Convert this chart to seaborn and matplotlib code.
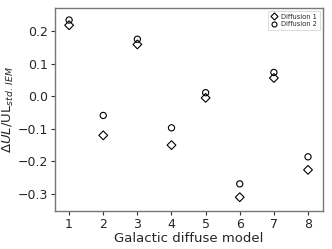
import matplotlib
matplotlib.use("Agg")
import matplotlib.pyplot as plt
import seaborn as sns
import pandas as pd

models = [1, 2, 3, 4, 5, 6, 7, 8]
diffusion1 = [0.218, -0.12, 0.159, -0.15, -0.005, -0.31, 0.056, -0.226]
diffusion2 = [0.234, -0.059, 0.175, -0.097, 0.011, -0.269, 0.073, -0.186]
series_names = ["Diffusion 1", "Diffusion 2"]

df = pd.DataFrame({
    "model": models * 2,
    "value": diffusion1 + diffusion2,
    "series": [series_names[0]] * len(models) + [series_names[1]] * len(models),
})

sns.set_style("ticks")
plt.rcParams["font.family"] = ["DejaVu Sans"]

fig, ax = plt.subplots(figsize=(3.32, 2.49), dpi=100)
sns.scatterplot(data=df, x="model", y="value", style="series",
                markers={"Diffusion 1": "D", "Diffusion 2": "o"},
                facecolor="none", edgecolor="black", linewidth=0.8,
                s=20, ax=ax, legend=True)
for coll in ax.collections:
    coll.set_facecolor("none")
    coll.set_edgecolor("black")

ax.set_xticks(models)
ax.set_xlim(0.59, 8.44)
ax.set_ylim(-0.352, 0.271)
ax.set_yticks([-0.3, -0.2, -0.1, 0.0, 0.1, 0.2])
ax.tick_params(labelsize=9, length=3, pad=2, color="#333333")
ax.set_xlabel("Galactic diffuse model", fontsize=9.5, labelpad=1)
ax.set_ylabel(r"$\Delta UL/\mathrm{UL}_{std.\,IEM}$", fontsize=9.5, labelpad=1)
for sp in ax.spines.values():
    sp.set_visible(True)
    sp.set_color("#777777")
    sp.set_linewidth(1.0)

leg = ax.legend(loc="upper right", fontsize=4.8, frameon=True, handletextpad=0.5,
                borderpad=0.35, labelspacing=0.25, fancybox=False, markerscale=0.8,
                handlelength=1.2)
for h in leg.legend_handles:
    try:
        h.set_markerfacecolor("none")
        h.set_markeredgecolor("black")
    except AttributeError:
        h.set_facecolor("none")
        h.set_edgecolor("black")
leg.get_frame().set_edgecolor("#cccccc")
leg.get_frame().set_linewidth(0.6)

fig.subplots_adjust(left=0.166, right=0.973, top=0.968, bottom=0.153)
fig.savefig("out.png", dpi=100)
